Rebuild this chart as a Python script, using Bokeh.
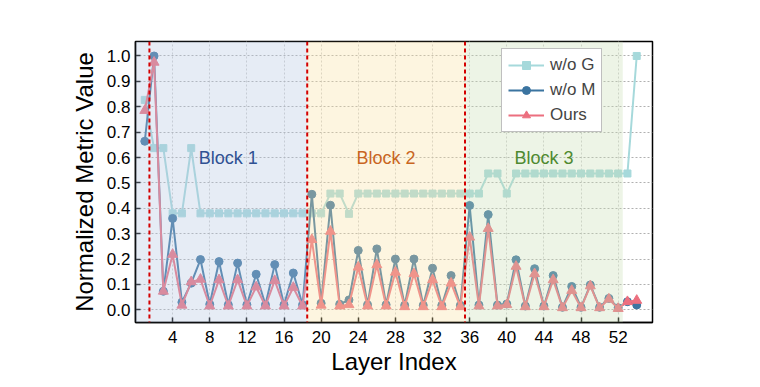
from bokeh.plotting import figure
from bokeh.models import BoxAnnotation, Span, FixedTicker, Legend, LegendItem, PrintfTickFormatter, ColumnDataSource
from bokeh.core.properties import value
from bokeh.embed import file_html
from bokeh.resources import INLINE

# ---------------- data ----------------
layers = list(range(1, 55))

wo_g = [0.827,
        0.637, 0.637, 0.38, 0.38, 0.637, 0.38, 0.38, 0.38, 0.38, 0.38, 0.38, 0.38, 0.38, 0.38, 0.38, 0.38, 0.38,
        0.38, 0.38, 0.458, 0.458, 0.378, 0.458, 0.458, 0.458, 0.458, 0.458, 0.458, 0.458, 0.458, 0.458, 0.458, 0.458, 0.458,
        0.458, 0.458, 0.537, 0.537, 0.458, 0.537, 0.537, 0.537, 0.537, 0.537, 0.537, 0.537, 0.537, 0.537, 0.537, 0.537, 0.537,
        0.537, 1.0]

wo_m = [0.664,
        1.0, 0.073, 0.36, 0.03, 0.105, 0.198, 0.022, 0.19, 0.02, 0.184, 0.02, 0.14, 0.02, 0.178, 0.02, 0.145, 0.02,
        0.455, 0.026, 0.412, 0.022, 0.039, 0.234, 0.02, 0.24, 0.02, 0.2, 0.018, 0.2, 0.018, 0.164, 0.018, 0.135, 0.018,
        0.411, 0.019, 0.375, 0.019, 0.023, 0.197, 0.015, 0.162, 0.015, 0.135, 0.01, 0.092, 0.01, 0.098, 0.01, 0.045, 0.008,
        0.032, 0.019]

ours = [0.785,
        0.975, 0.073, 0.218, 0.018, 0.11, 0.12, 0.015, 0.118, 0.015, 0.118, 0.015, 0.09, 0.015, 0.115, 0.015, 0.088, 0.015,
        0.276, 0.018, 0.309, 0.015, 0.02, 0.168, 0.015, 0.177, 0.015, 0.148, 0.012, 0.142, 0.012, 0.118, 0.012, 0.105, 0.012,
        0.286, 0.015, 0.32, 0.015, 0.02, 0.171, 0.012, 0.142, 0.012, 0.118, 0.008, 0.076, 0.008, 0.094, 0.008, 0.042, 0.005,
        0.032, 0.037]

series_names = ["w/o G", "w/o M", "Ours"]
block_names = ["Block 1", "Block 2", "Block 3"]
block_bounds = [1.5, 18.5, 35.5, 52.5]
x_ticks = [4, 8, 12, 16, 20, 24, 28, 32, 36, 40, 44, 48, 52]
y_ticks = [0.0, 0.1, 0.2, 0.3, 0.4, 0.5, 0.6, 0.7, 0.8, 0.9, 1.0]

# ---------------- figure ----------------
FONT = "Liberation Sans"
p = figure(width=744, height=377, x_range=(0, 55.7), y_range=(-0.05, 1.057),
           output_backend="svg", toolbar_location=None,
           min_border_left=135, min_border_right=92, min_border_top=41, min_border_bottom=45)

p.outline_line_color = "black"
p.outline_line_width = 1.5

src = ColumnDataSource(dict(x=layers, g=wo_g, m=wo_m, o=ours))

c_g, c_m, c_o = "#a6d9db", "#3b74a0", "#ec6f7f"
lg = p.line("x", "g", source=src, line_color=c_g, line_width=2)
sg = p.scatter("x", "g", source=src, marker="square", size=7, fill_color=c_g, line_color=c_g)
lm = p.line("x", "m", source=src, line_color=c_m, line_width=2)
sm = p.scatter("x", "m", source=src, marker="circle", size=8, fill_color=c_m, line_color=c_m)
lo = p.line("x", "o", source=src, line_color=c_o, line_width=2)
so = p.scatter("x", "o", source=src, marker="triangle", size=10, fill_color=c_o, line_color=c_o)

legend = Legend(items=[LegendItem(label=series_names[0], renderers=[lg, sg]),
                       LegendItem(label=series_names[1], renderers=[lm, sm]),
                       LegendItem(label=series_names[2], renderers=[lo, so])],
                location=(366, 190))
legend.label_text_font = FONT
legend.label_text_font_size = "17px"
legend.glyph_width = 36
legend.glyph_height = 20
legend.label_standoff = 6
legend.padding = 6
legend.spacing = 5
legend.margin = 0
legend.border_line_color = "#808080"
legend.border_line_width = 1.5
legend.background_fill_color = "white"
legend.background_fill_alpha = 1.0
p.add_layout(legend)

# shaded blocks (drawn over the data, translucent)
shade_cols = ["#b3c5e0", "#f9e0a0", "#c8ddb3"]
p.add_layout(BoxAnnotation(right=block_bounds[1], fill_color=shade_cols[0], fill_alpha=0.33, line_color=None))
p.add_layout(BoxAnnotation(left=block_bounds[1], right=block_bounds[2], fill_color=shade_cols[1], fill_alpha=0.33, line_color=None))
p.add_layout(BoxAnnotation(left=block_bounds[2], right=block_bounds[3], fill_color=shade_cols[2], fill_alpha=0.33, line_color=None))

for b in block_bounds[:3]:
    p.add_layout(Span(location=b, dimension="height", line_color="#d40000", line_width=2, line_dash="4 3"))

text_cols = ["#2f5193", "#c9651f", "#4f8a30"]
centers = [(block_bounds[i] + block_bounds[i + 1]) / 2 for i in range(3)]
p.text(x=centers, y=[0.6] * 3, text=block_names, text_color=text_cols,
       text_font=value(FONT), text_font_size="18px", text_align="center", text_baseline="middle",
       level="overlay")

# axes
p.xaxis.ticker = FixedTicker(ticks=x_ticks)
p.yaxis.ticker = FixedTicker(ticks=y_ticks)
p.yaxis.formatter = PrintfTickFormatter(format="%.1f")
for ax in (p.xaxis[0], p.yaxis[0]):
    ax.major_tick_in = 5
    ax.major_tick_out = 0
    ax.minor_tick_line_color = None
    ax.axis_line_width = 1.5
    ax.major_tick_line_width = 1.5
    ax.major_label_text_font = FONT
    ax.major_label_text_font_size = "17px"
    ax.major_label_text_color = "black"
    ax.axis_label_text_font = FONT
    ax.axis_label_text_font_size = "24px"
    ax.axis_label_text_font_style = "normal"
    ax.axis_label_text_color = "black"
p.xaxis.axis_label = "Layer Index"
p.yaxis.axis_label = "Normalized Metric Value"
p.xaxis.major_label_standoff = 8
p.yaxis.major_label_standoff = 5
p.xaxis.axis_label_standoff = 2
p.yaxis.axis_label_standoff = 6

p.ygrid.ticker = FixedTicker(ticks=y_ticks)
p.ygrid.grid_line_color = "#b0b0b0"
p.ygrid.grid_line_dash = "2 2"
p.ygrid.grid_line_width = 1
p.xgrid.ticker = FixedTicker(ticks=x_ticks)
p.xgrid.grid_line_color = "#d0d0d0"
p.xgrid.grid_line_dash = "2 2"
p.xgrid.grid_line_width = 1

open("out.html", "w").write(file_html(p, INLINE))
